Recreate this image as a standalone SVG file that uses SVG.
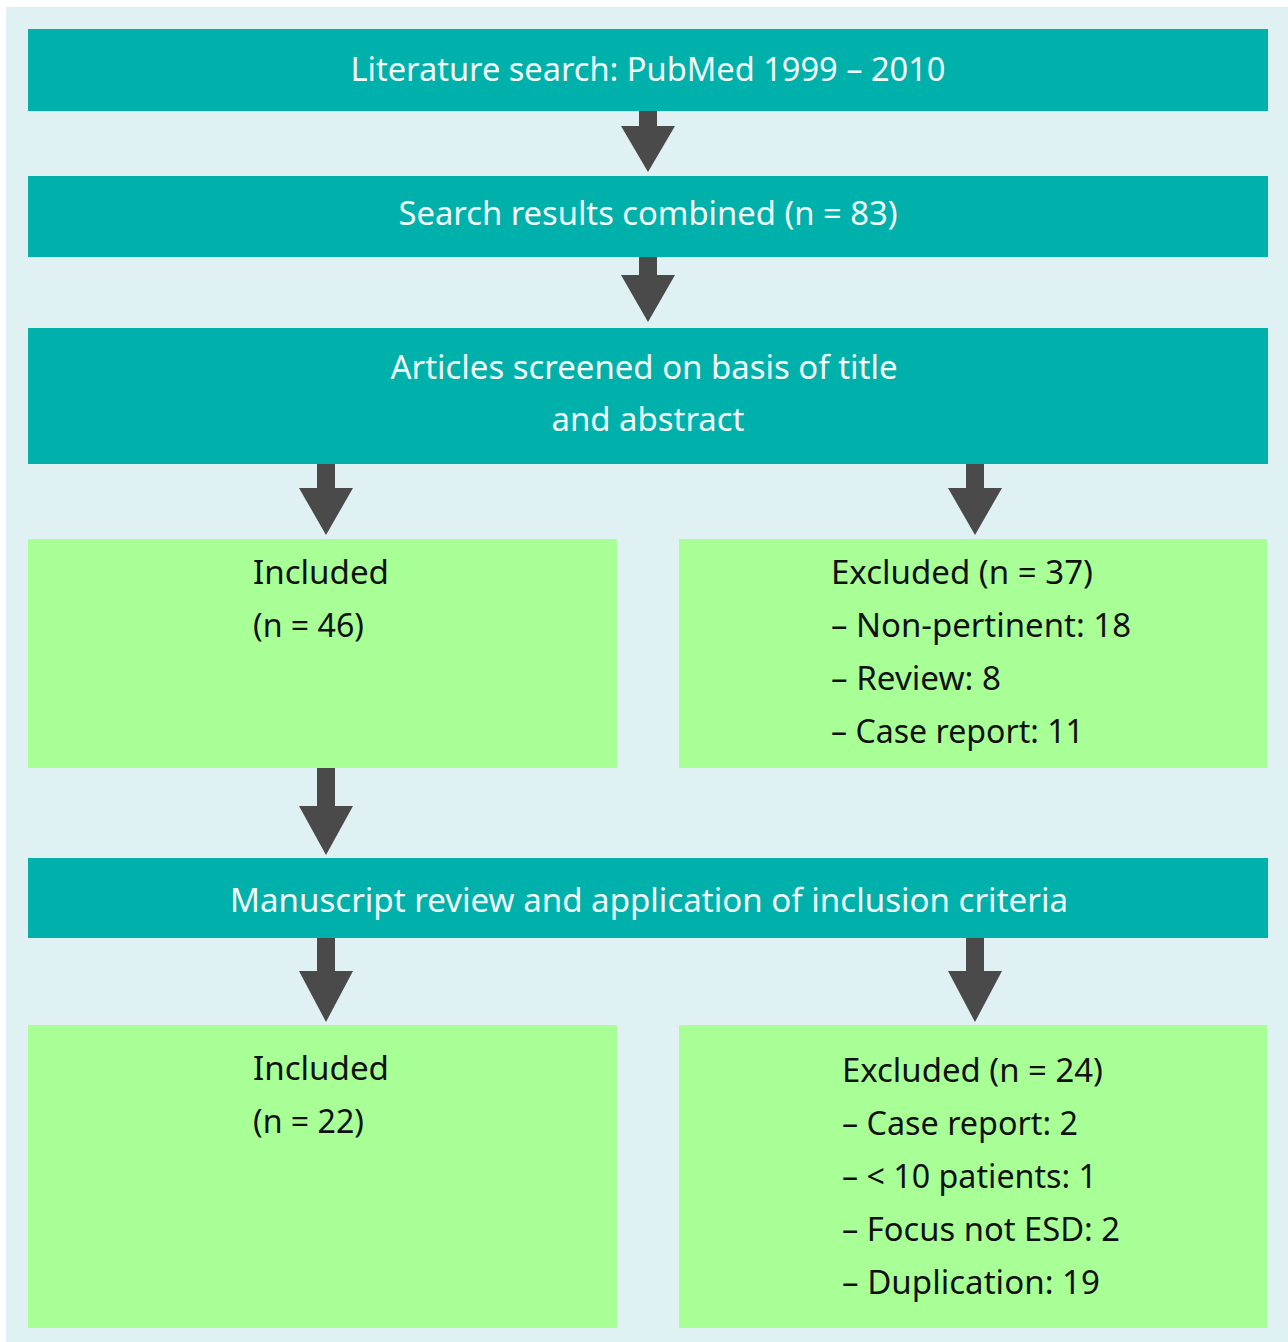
<svg xmlns="http://www.w3.org/2000/svg" width="1288" height="1342" viewBox="0 0 1288 1342">
<defs>
<style>
.bg{fill:#DFF1F3}
.teal{fill:#00B1AB}
.green{fill:#A8FF96}
.arr{fill:#4A4A4A}
text{font-family:"Noto Sans","Open Sans","Liberation Sans",sans-serif;font-size:32px}
.w{fill:#F2FBFA;text-anchor:middle}
.k{fill:#111111}
</style>
</defs>
<rect x="0" y="0" width="1288" height="1342" fill="#FFFFFF"/>
<rect class="bg" x="6" y="7" width="1282" height="1335"/>
<g id="n1"><rect class="teal" x="28" y="29" width="1240" height="82"/>
<text class="w" x="648" y="81" textLength="595" lengthAdjust="spacingAndGlyphs">Literature search: PubMed 1999 – 2010</text></g>
<g id="n2"><rect class="teal" x="28" y="176" width="1240" height="81"/>
<text class="w" x="648" y="225" textLength="499" lengthAdjust="spacingAndGlyphs">Search results combined (n = 83)</text></g>
<g id="n3"><rect class="teal" x="28" y="328" width="1240" height="136"/>
<text class="w" x="644" y="379" textLength="507" lengthAdjust="spacingAndGlyphs">Articles screened on basis of title</text>
<text class="w" x="648" y="431" textLength="193" lengthAdjust="spacingAndGlyphs">and abstract</text></g>
<g id="n4"><rect class="green" x="28" y="539" width="589" height="229"/>
<text class="k" x="253" y="584" textLength="136" lengthAdjust="spacingAndGlyphs">Included</text>
<text class="k" x="253" y="637" textLength="111" lengthAdjust="spacingAndGlyphs">(n = 46)</text></g>
<g id="n5"><rect class="green" x="679" y="539" width="588" height="229"/>
<text class="k" x="831" y="584" textLength="262" lengthAdjust="spacingAndGlyphs">Excluded (n = 37)</text>
<text class="k" x="831" y="637" textLength="300" lengthAdjust="spacingAndGlyphs">– Non-pertinent: 18</text>
<text class="k" x="831" y="690" textLength="170" lengthAdjust="spacingAndGlyphs">– Review: 8</text>
<text class="k" x="831" y="743" textLength="253" lengthAdjust="spacingAndGlyphs">– Case report: 11</text></g>
<g id="n6"><rect class="teal" x="28" y="858" width="1240" height="80"/>
<text class="w" x="649" y="912" textLength="838" lengthAdjust="spacingAndGlyphs">Manuscript review and application of inclusion criteria</text></g>
<g id="n7"><rect class="green" x="28" y="1025" width="589" height="303"/>
<text class="k" x="253" y="1080" textLength="136" lengthAdjust="spacingAndGlyphs">Included</text>
<text class="k" x="253" y="1133" textLength="111" lengthAdjust="spacingAndGlyphs">(n = 22)</text></g>
<g id="n8"><rect class="green" x="679" y="1025" width="588" height="303"/>
<text class="k" x="842" y="1082" textLength="261" lengthAdjust="spacingAndGlyphs">Excluded (n = 24)</text>
<text class="k" x="842" y="1135" textLength="236" lengthAdjust="spacingAndGlyphs">– Case report: 2</text>
<text class="k" x="842" y="1188" textLength="255" lengthAdjust="spacingAndGlyphs">– &lt; 10 patients: 1</text>
<text class="k" x="842" y="1241" textLength="278" lengthAdjust="spacingAndGlyphs">– Focus not ESD: 2</text>
<text class="k" x="842" y="1294" textLength="258" lengthAdjust="spacingAndGlyphs">– Duplication: 19</text></g>
<g id="connectors">
<path class="arr" d="M639,111 H657 V126 H675 L648,172 L621,126 H639 Z"/>
<path class="arr" d="M639,257 H657 V275 H675 L648,322 L621,275 H639 Z"/>
<path class="arr" d="M317,464 H335 V488 H353 L326,535 L299,488 H317 Z"/>
<path class="arr" d="M966,464 H984 V488 H1002 L975,535 L948,488 H966 Z"/>
<path class="arr" d="M317,768 H335 V806 H353 L326,855 L299,806 H317 Z"/>
<path class="arr" d="M317,938 H335 V971 H353 L326,1022 L299,971 H317 Z"/>
<path class="arr" d="M966,938 H984 V971 H1002 L975,1022 L948,971 H966 Z"/>
</g>
</svg>
